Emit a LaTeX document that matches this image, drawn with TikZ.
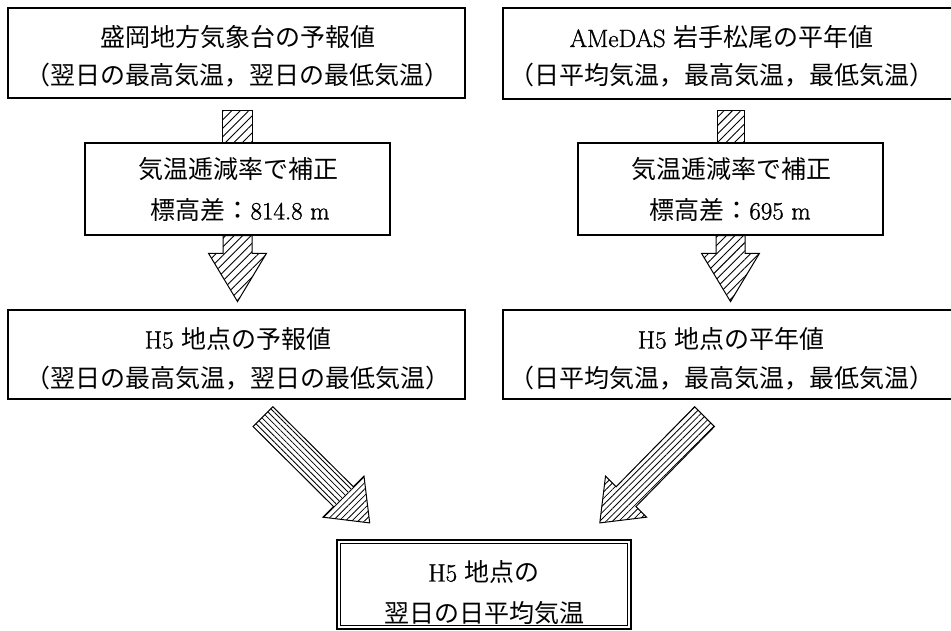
\documentclass[tikz,border=0pt]{standalone}
\usepackage{fontspec}
\setmainfont{Latin Modern Roman}[FakeBold=1.2]
\newfontfamily\jp{Noto Sans CJK JP}
\newcommand\J[1]{{\jp #1}}
\usetikzlibrary{patterns.meta,calc}
\begin{document}
\begin{tikzpicture}[x=1pt,y=-1pt,line join=miter,
  box/.style={draw=black,line width=1.2pt,fill=white,inner sep=0pt},
  lbl/.style={anchor=base,inner sep=0pt,font=\fontsize{25}{30}\selectfont},
  arr/.style={draw=black,line width=1pt},
  hatchV/.style={pattern={Lines[angle=45,distance=6pt,line width=0.9pt]}},
  hatchL/.style={pattern={Lines[angle=-45,distance=4.2pt,line width=0.8pt]}},
  hatchD/.style={pattern={Lines[angle=45,distance=4.5pt,line width=0.8pt]}}]
\useasboundingbox (0,0) rectangle (951,631);

% boxes (shapes)
\node[box,minimum width=457pt,minimum height=90pt] (b1) at (236.5,53) {};
\node[box,minimum width=457pt,minimum height=91pt] (b2) at (731.5,53.5) {};
\node[box,minimum width=305pt,minimum height=92pt] (m1) at (237.5,189) {};
\node[box,minimum width=305pt,minimum height=92pt] (m2) at (730.5,189) {};
\node[box,minimum width=457pt,minimum height=89pt] (b3) at (236.5,354.5) {};
\node[box,minimum width=457pt,minimum height=89pt] (b4) at (731.5,354.5) {};
\node[box,line width=1.7pt,minimum width=294pt,minimum height=89pt] (fin) at (484,584.5) {};
\draw[line width=0.8pt] ($(fin.north west)+(4.5,4.5)$) rectangle ($(fin.south east)+(-4.5,-4.5)$);

% vertical stubs
\draw[arr,hatchV] ($(b1.south)+(-14,12)$) rectangle ($(m1.north)+(14.5,0)$);
\draw[arr,hatchV] ($(b2.south)+(-14.5,11)$) rectangle ($(m2.north)+(14,0)$);

% vertical block arrows
\coordinate (la) at (m1.south);
\draw[arr,hatchV] ($(la)+(-14.5,0)$) -- ($(la)+(-14.5,17.7)$) -- ($(la)+(-29,17.7)$)
  -- ($(la)+(0,66)$) -- ($(la)+(29,17.7)$) -- ($(la)+(14.5,17.7)$) -- ($(la)+(14.5,0)$) -- cycle;
\coordinate (ra) at (m2.south);
\draw[arr,hatchV] ($(ra)+(-14.5,0)$) -- ($(ra)+(-14.5,17.7)$) -- ($(ra)+(-29,17.7)$)
  -- ($(ra)+(0,66)$) -- ($(ra)+(29,17.7)$) -- ($(ra)+(14.5,17.7)$) -- ($(ra)+(14.5,0)$) -- cycle;

% diagonal block arrow, left
\fill[hatchL] (253.1,426.6) -- (272.9,406.8) -- (353.4,486.8) -- (333.6,506.6) -- cycle;
\fill[hatchD] (364.0,476.2) -- (369.7,522.9) -- (323.0,517.2) -- cycle;
\draw[arr] (253.1,426.6) -- (272.9,406.8) -- (353.4,486.8) -- (364.0,476.2) -- (369.7,522.9)
  -- (323.0,517.2) -- (333.6,506.6) -- cycle;

% diagonal block arrow, right
\fill[hatchD] (714.4,426.6) -- (694.6,406.8) -- (616.1,486.8) -- (635.9,506.6) -- cycle;
\fill[hatchD] (605.5,476.2) -- (599.8,522.9) -- (646.5,517.2) -- cycle;
\draw[arr] (714.4,426.6) -- (694.6,406.8) -- (616.1,486.8) -- (605.5,476.2) -- (599.8,522.9)
  -- (646.5,517.2) -- (635.9,506.6) -- cycle;

% texts
\node[lbl] (t1a) at (237.5,47) {\J{盛岡地方気象台の予報値}};
\node[lbl] (t1b) at (237.5,85) {\J{（翌日の最高気温，翌日の最低気温）}};
\node[lbl] (t2a) at (721.5,47) {AMeDAS \J{岩手松尾の平年値}};
\node[lbl] (t2b) at (721.5,85) {\J{（日平均気温，最高気温，最低気温）}};
\node[lbl] (t3a) at (238,178.5) {\J{気温逓減率で補正}};
\node[lbl] (t3b) at (240,219.5) {\J{標高差：}814.8 m};
\node[lbl] (t4a) at (731,178.5) {\J{気温逓減率で補正}};
\node[lbl] (t4b) at (730,219.5) {\J{標高差：}695 m};
\node[lbl] (t5a) at (238,348.5) {H5 \J{地点の予報値}};
\node[lbl] (t5b) at (238,387) {\J{（翌日の最高気温，翌日の最低気温）}};
\node[lbl] (t6a) at (731,348.5) {H5 \J{地点の平年値}};
\node[lbl] (t6b) at (721.5,387) {\J{（日平均気温，最高気温，最低気温）}};
\node[lbl] (t7a) at (484,581.5) {H5 \J{地点の}};
\node[lbl] (t7b) at (484,622.5) {\J{翌日の日平均気温}};
\end{tikzpicture}
\end{document}
